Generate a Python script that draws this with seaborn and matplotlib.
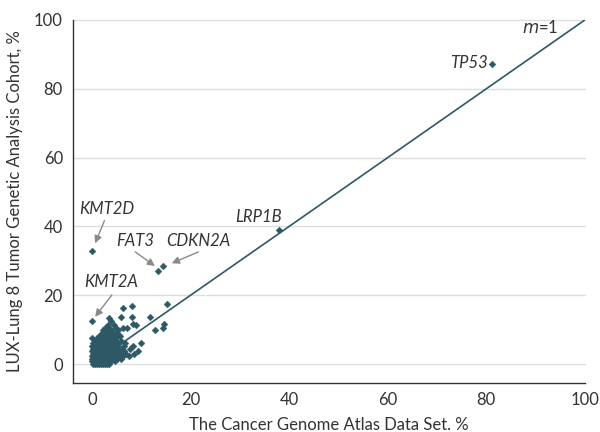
import matplotlib
matplotlib.use("Agg")
import matplotlib.pyplot as plt
import seaborn as sns
import pandas as pd

# Labeled genes (TCGA %, LUX-Lung 8 %)
genes = ["TP53", "LRP1B", "KMT2D", "FAT3", "CDKN2A", "KMT2A"]
gene_x = [81.2, 38.0, 0.0, 13.5, 14.5, 0.0]
gene_y = [87.2, 39.0, 32.8, 27.1, 28.4, 12.5]

# Remaining genes, read row by row (y level: list of x values)
rows_y = [0.0, 0.8, 1.5, 2.3, 3.0, 3.8, 4.5, 5.3, 6.1, 6.8, 7.6, 8.3, 9.1, 9.8,
          10.6, 11.4, 11.8, 12.4, 13.3, 13.8, 16.3, 17.0, 17.5]
rows_x = [
    [0.2, 0.6, 1.0, 1.4, 1.8, 2.2, 2.6, 3.0, 3.5],
    [0.0, 0.4, 0.8, 1.2, 1.6, 2.0, 2.4, 2.8, 3.3, 3.9, 4.6],
    [0.1, 0.5, 0.9, 1.3, 1.7, 2.1, 2.6, 3.1, 3.7, 4.4, 5.2, 6.0],
    [0.0, 0.4, 0.8, 1.2, 1.7, 2.2, 2.7, 3.2, 3.8, 4.5, 5.3, 6.4, 7.5],
    [0.2, 0.6, 1.0, 1.5, 2.0, 2.5, 3.0, 3.6, 4.2, 5.0, 5.8, 7.0, 8.6],
    [0.0, 0.5, 1.0, 1.5, 2.0, 2.6, 3.2, 3.9, 4.6, 5.5, 6.6, 9.4],
    [0.2, 0.7, 1.2, 1.8, 2.4, 3.0, 3.7, 4.4, 5.2, 6.2, 7.8],
    [0.0, 0.5, 1.1, 1.7, 2.3, 3.0, 3.7, 4.5, 5.4, 6.5, 8.4],
    [0.3, 0.9, 1.5, 2.2, 2.9, 3.6, 4.4, 5.3, 6.8, 9.9],
    [0.6, 1.2, 1.9, 2.6, 3.3, 4.1, 5.0, 6.0],
    [0.0, 1.0, 1.7, 2.4, 3.1, 3.9, 4.8],
    [1.4, 2.1, 2.8, 3.6, 4.5, 5.7],
    [2.0, 2.8, 3.5, 4.3, 5.2],
    [2.3, 3.1, 3.8, 5.4, 12.9],
    [2.6, 3.4, 4.9, 6.4, 7.1, 14.5],
    [3.2, 4.4, 9.0],
    [8.4, 14.6],
    [3.9],
    [3.4],
    [6.0, 8.1, 11.8],
    [6.4],
    [8.1],
    [15.2],
]

xs = list(gene_x)
ys = list(gene_y)
for yv, xl in zip(rows_y, rows_x):
    for xv in xl:
        xs.append(xv)
        ys.append(yv)
df = pd.DataFrame({"tcga": xs, "lux": ys})

sns.set_style("white")
plt.rcParams["font.family"] = ["Lato", "DejaVu Sans"]

color = "#2c5965"
fig = plt.figure(figsize=(6.0, 4.32), dpi=100)
ax = fig.add_axes([0.121, 0.114, 0.854, 0.840])

for g in [0, 20, 40, 60, 80, 100]:
    ax.plot([-3.9, 100], [g, g], color="#dedede", lw=1.0, zorder=0, clip_on=False)

ax.plot([0, 100], [0, 100], color=color, lw=1.2, zorder=1)
sns.scatterplot(data=df, x="tcga", y="lux", marker="D", s=12, color=color,
                edgecolor=color, linewidth=0.3, ax=ax, zorder=2)

ax.set_xlim(-3.9, 100)
ax.set_ylim(-5.4, 100)
ax.set_xticks([0, 20, 40, 60, 80, 100])
ax.set_yticks([0, 20, 40, 60, 80, 100])
ax.tick_params(axis="both", direction="out", length=4, width=1, color="#333333",
               labelsize=12, labelcolor="#333333", pad=3)
for s in ["top", "right"]:
    ax.spines[s].set_visible(False)
for s in ["left", "bottom"]:
    ax.spines[s].set_color("#333333")
    ax.spines[s].set_linewidth(1.0)
ax.grid(False)

ax.set_xlabel("The Cancer Genome Atlas Data Set. %", fontsize=12, color="#333333", labelpad=6)
ax.set_ylabel("LUX-Lung 8 Tumor Genetic Analysis Cohort, %", fontsize=12, color="#333333", labelpad=8)

tkw = dict(fontsize=12, style="italic", color="#333333")
akw = dict(arrowstyle="-|>", color="#8a8a8a", lw=1.0, mutation_scale=11, shrinkA=0, shrinkB=0)

def arrow(tail, head):
    ax.annotate("", xy=head, xytext=tail, arrowprops=akw)

ax.text(3.0, 45.1, "KMT2D", ha="center", va="center", **tkw)
arrow((2.56, 41.7), (0.67, 35.1))
ax.text(8.7, 35.8, "FAT3", ha="center", va="center", **tkw)
arrow((8.8, 32.6), (12.8, 28.5))
ax.text(21.6, 35.8, "CDKN2A", ha="center", va="center", **tkw)
arrow((21.6, 32.6), (16.2, 29.3))
ax.text(4.0, 24.0, "KMT2A", ha="center", va="center", **tkw)
arrow((4.06, 20.1), (0.67, 13.75))
ax.text(33.8, 42.7, "LRP1B", ha="center", va="center", **tkw)
ax.text(80.2, 87.4, "TP53", ha="right", va="center", **tkw)
ax.text(90.9, 97.7, "$m$=1", ha="center", va="center", fontsize=12, color="#333333")

fig.savefig("out.png", dpi=100)
